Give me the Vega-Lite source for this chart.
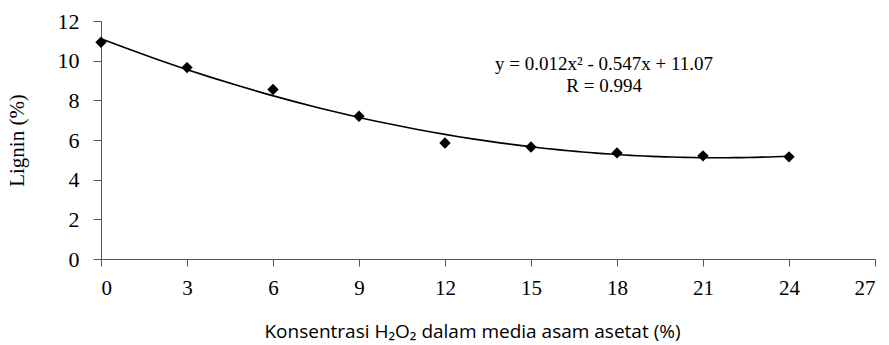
{
  "$schema": "https://vega.github.io/schema/vega-lite/v6.json",
  "width": 774,
  "height": 238,
  "autosize": {"type": "none"},
  "padding": {"left": 101, "top": 21, "right": 14, "bottom": 86},
  "background": "white",
  "config": {"view": {"stroke": null}},
  "datasets": {
    "points": [
      {"x": 0, "y": 10.93},
      {"x": 3, "y": 9.65},
      {"x": 6, "y": 8.55},
      {"x": 9, "y": 7.2},
      {"x": 12, "y": 5.85},
      {"x": 15, "y": 5.65},
      {"x": 18, "y": 5.35},
      {"x": 21, "y": 5.2},
      {"x": 24, "y": 5.15}
    ],
    "labels": [
      {"x": 17.55, "y": 9.83, "t": "y = 0.012x² - 0.547x + 11.07"},
      {"x": 17.55, "y": 8.7, "t": "R = 0.994"}
    ]
  },
  "encoding": {
    "x": {
      "field": "x", "type": "quantitative",
      "scale": {"domain": [0, 27], "nice": false},
      "axis": {
        "values": [0, 3, 6, 9, 12, 15, 18, 21, 24, 27],
        "labelOverlap": false,
        "grid": false,
        "domainColor": "#555",
        "tickColor": "#555",
        "tickSize": 7,
        "labelFont": "Liberation Serif",
        "labelFontSize": 21,
        "labelColor": "black",
        "labelPadding": 11,
        "title": "Konsentrasi H₂O₂ dalam media asam asetat (%)",
        "titleFont": "Open Sans",
        "titleFontSize": 19,
        "titleFontWeight": "normal",
        "titleColor": "black",
        "titlePadding": 24,
        "titleX": 371
      }
    },
    "y": {
      "field": "y", "type": "quantitative",
      "scale": {"domain": [0, 12], "nice": false},
      "axis": {
        "values": [0, 2, 4, 6, 8, 10, 12],
        "labelOverlap": false,
        "grid": false,
        "domainColor": "#555",
        "tickColor": "#555",
        "tickSize": 8,
        "labelFont": "Liberation Serif",
        "labelFontSize": 22,
        "labelColor": "black",
        "labelPadding": 14,
        "title": "Lignin (%)",
        "titleFont": "Liberation Serif",
        "titleFontSize": 21,
        "titleFontWeight": "normal",
        "titleColor": "black",
        "titlePadding": 30
      }
    }
  },
  "layer": [
    {
      "data": {"name": "points"},
      "transform": [
        {"regression": "y", "on": "x", "method": "poly", "order": 2, "extent": [0, 24]}
      ],
      "mark": {"type": "line", "color": "black", "strokeWidth": 1.6}
    },
    {
      "data": {"name": "points"},
      "mark": {"type": "point", "shape": "diamond", "filled": true, "color": "black", "size": 130, "opacity": 1}
    },
    {
      "data": {"name": "labels"},
      "mark": {"type": "text", "font": "Liberation Serif", "fontSize": 19, "color": "black", "align": "center", "baseline": "middle"},
      "encoding": {
        "text": {"field": "t"}
      }
    }
  ]
}
